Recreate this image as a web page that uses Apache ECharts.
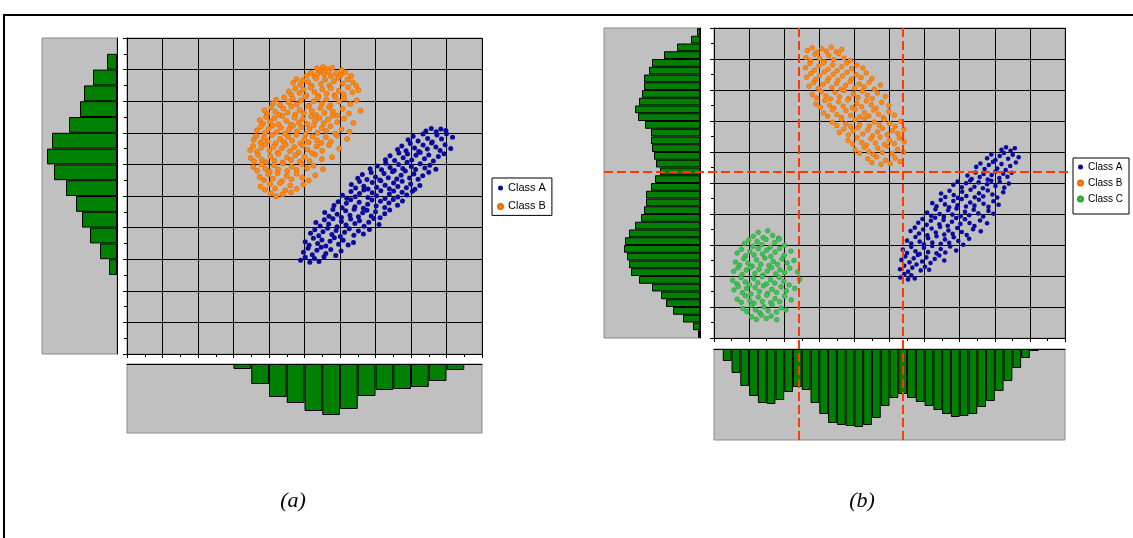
<!DOCTYPE html>
<html><head><meta charset="utf-8">
<script src="https://cdn.jsdelivr.net/npm/echarts@6/dist/echarts.min.js"></script>
<style>html,body{margin:0;padding:0;background:#fff}#c{width:1133px;height:538px}</style>
</head><body><div id="c"></div>
<script>
// ---------- data ----------
const classA_a = [[4.89,2.97],[5.02,3.06],[5.15,2.9],[5.28,3.02],[5.41,2.93],[5.55,3.08],
[4.97,3.22],[5.1,3.35],[5.22,3.14],[5.35,3.28],[5.47,3.38],[5.6,3.18],[5.74,3.31],[5.88,3.12],[6.03,3.26],
[5.02,3.55],[5.13,3.44],[5.25,3.66],[5.37,3.5],[5.49,3.61],[5.6,3.42],[5.72,3.57],[5.84,3.68],[5.96,3.47],[6.09,3.6],[6.23,3.45],[6.38,3.53],
[5.17,3.82],[5.29,3.93],[5.4,3.74],[5.52,3.87],[5.65,3.98],[5.77,3.78],[5.89,3.91],[6.01,3.72],[6.13,3.85],[6.26,3.96],[6.39,3.76],[6.52,3.89],[6.66,3.8],[6.83,3.94],
[5.32,4.16],[5.44,4.05],[5.56,4.25],[5.68,4.11],[5.8,4.28],[5.92,4.03],[6.04,4.19],[6.17,4.08],[6.3,4.27],[6.42,4.13],[6.55,4.22],[6.68,4.04],[6.81,4.17],[6.95,4.29],[7.1,4.1],
[5.57,4.48],[5.69,4.36],[5.8,4.57],[5.92,4.42],[6.04,4.32],[6.16,4.53],[6.28,4.39],[6.4,4.58],[6.52,4.34],[6.64,4.47],[6.76,4.55],[6.88,4.37],[7.0,4.5],[7.13,4.31],[7.26,4.44],[7.4,4.56],
[5.83,4.7],[5.95,4.82],[6.06,4.63],[6.18,4.77],[6.3,4.88],[6.42,4.66],[6.54,4.8],[6.66,4.61],[6.78,4.74],[6.9,4.87],[7.02,4.68],[7.14,4.83],[7.26,4.64],[7.38,4.78],[7.5,4.89],[7.62,4.71],[7.76,4.84],
[6.07,5.02],[6.19,4.93],[6.31,5.14],[6.43,4.98],[6.55,5.08],[6.67,5.19],[6.79,4.95],[6.91,5.1],[7.03,5.01],[7.15,5.17],[7.27,4.92],[7.39,5.06],[7.51,5.16],[7.63,4.97],[7.75,5.12],[7.88,5.03],[8.04,5.15],
[6.32,5.36],[6.44,5.25],[6.55,5.46],[6.67,5.31],[6.79,5.22],[6.91,5.43],[7.03,5.28],[7.15,5.48],[7.27,5.34],[7.39,5.23],[7.51,5.41],[7.63,5.3],[7.75,5.47],[7.87,5.26],[7.99,5.38],[8.11,5.21],[8.25,5.33],
[6.5,5.56],[6.63,5.68],[6.76,5.52],[6.88,5.74],[7.0,5.6],[7.12,5.51],[7.24,5.71],[7.36,5.58],[7.48,5.77],[7.6,5.54],[7.72,5.66],[7.84,5.79],[7.96,5.57],[8.08,5.7],[8.2,5.53],[8.33,5.64],[8.5,5.75],
[6.85,5.86],[7.05,5.95],[7.17,5.83],[7.29,6.04],[7.41,5.9],[7.53,5.81],[7.65,6.0],[7.77,5.87],[7.89,6.07],[8.01,5.93],[8.13,5.84],[8.26,6.02],[8.39,5.89],[8.53,5.97],[8.7,5.85],
[7.28,6.15],[7.41,6.27],[7.54,6.12],[7.66,6.36],[7.78,6.21],[7.9,6.33],[8.02,6.14],[8.14,6.29],[8.26,6.38],[8.38,6.18],[8.5,6.3],[8.63,6.11],[8.77,6.25],[8.93,6.34],
[7.62,6.47],[7.74,6.58],[7.86,6.43],[7.98,6.66],[8.1,6.52],[8.22,6.41],[8.34,6.61],[8.46,6.49],[8.58,6.68],[8.7,6.55],[8.82,6.44],[8.96,6.62],[9.12,6.5],
[7.92,6.78],[8.06,6.89],[8.2,6.74],[8.34,6.96],[8.47,6.82],[8.6,6.71],[8.73,6.93],[8.86,6.8],[9.0,6.97],[9.17,6.86],
[8.42,7.06],[8.57,7.14],[8.71,7.03],[8.84,7.12],[8.98,7.07]];

const classB_a = [[5.35,9.04],[5.52,9.08],[5.63,9.02],[5.78,9.06],[5.47,8.97],[6.05,8.98],
[5.06,8.81],[5.18,8.9],[5.29,8.78],[5.41,8.92],[5.55,8.85],[5.68,8.93],[5.74,8.79],[5.89,8.88],[6.02,8.83],[6.15,8.91],[6.31,8.8],[5.36,8.86],
[4.68,8.58],[4.77,8.7],[4.88,8.52],[4.95,8.66],[5.1,8.61],[5.21,8.49],[5.33,8.72],[5.46,8.55],[5.58,8.68],[5.7,8.5],[5.83,8.63],[5.95,8.74],[6.08,8.56],[6.21,8.69],[6.36,8.6],[6.46,8.48],
[4.56,8.31],[4.63,8.2],[4.74,8.4],[4.86,8.26],[4.97,8.37],[5.05,8.18],[5.17,8.43],[5.28,8.29],[5.39,8.17],[5.5,8.38],[5.62,8.24],[5.74,8.41],[5.85,8.19],[5.97,8.33],[6.1,8.22],[6.23,8.44],[6.35,8.28],[6.52,8.35],
[4.12,7.93],[4.2,8.05],[4.31,7.88],[4.43,8.12],[4.55,7.97],[4.67,8.08],[4.78,7.9],[4.9,8.02],[5.02,8.14],[5.13,7.86],[5.26,8.0],[5.38,8.11],[5.49,7.92],[5.61,8.06],[5.73,7.87],[5.86,8.13],[5.98,7.99],[6.12,8.09],[6.29,7.91],[6.47,8.03],
[3.87,7.71],[3.95,7.6],[4.06,7.8],[4.18,7.66],[4.29,7.57],[4.4,7.77],[4.52,7.64],[4.63,7.83],[4.74,7.58],[4.86,7.72],[4.98,7.62],[5.1,7.84],[5.21,7.69],[5.33,7.56],[5.45,7.78],[5.56,7.63],[5.69,7.81],[5.8,7.67],[5.93,7.55],[6.07,7.76],[6.25,7.61],[6.58,7.7],
[3.74,7.4],[3.83,7.29],[3.92,7.5],[4.03,7.35],[4.15,7.46],[4.26,7.27],[4.38,7.53],[4.49,7.38],[4.61,7.26],[4.72,7.48],[4.84,7.33],[4.95,7.44],[5.07,7.28],[5.19,7.52],[5.3,7.37],[5.42,7.47],[5.54,7.3],[5.66,7.42],[5.79,7.54],[5.92,7.34],[6.11,7.45],[6.38,7.31],
[3.66,7.08],[3.77,7.2],[3.88,6.99],[3.99,7.13],[4.1,7.23],[4.22,7.02],[4.33,7.16],[4.45,6.97],[4.56,7.1],[4.68,7.22],[4.79,7.04],[4.91,7.18],[5.03,6.96],[5.14,7.12],[5.26,7.24],[5.37,7.0],[5.49,7.15],[5.61,7.06],[5.73,7.21],[5.87,6.98],[6.04,7.11],[6.27,7.03],
[3.57,6.78],[3.64,6.9],[3.76,6.69],[3.86,6.84],[3.97,6.73],[4.08,6.93],[4.19,6.67],[4.31,6.81],[4.42,6.71],[4.54,6.88],[4.65,6.75],[4.77,6.94],[4.88,6.66],[5.0,6.8],[5.12,6.7],[5.23,6.89],[5.35,6.76],[5.47,6.68],[5.6,6.86],[5.74,6.72],[5.92,6.91],[6.2,6.8],
[3.47,6.45],[3.55,6.58],[3.66,6.4],[3.78,6.53],[3.9,6.63],[4.01,6.44],[4.13,6.56],[4.24,6.37],[4.36,6.51],[4.47,6.62],[4.59,6.42],[4.71,6.55],[4.83,6.38],[4.95,6.6],[5.08,6.47],[5.21,6.36],[5.34,6.57],[5.5,6.43],[5.69,6.61],[5.98,6.5],
[3.48,6.2],[3.58,6.1],[3.69,6.3],[3.8,6.15],[3.92,6.07],[4.04,6.26],[4.15,6.12],[4.27,6.33],[4.38,6.06],[4.5,6.22],[4.62,6.14],[4.74,6.29],[4.87,6.09],[5.0,6.24],[5.14,6.11],[5.3,6.31],[5.49,6.17],[5.78,6.23],
[3.56,5.92],[3.67,5.8],[3.79,6.0],[3.9,5.86],[4.02,5.77],[4.14,5.97],[4.26,5.84],[4.39,6.03],[4.51,5.79],[4.64,5.93],[4.78,5.83],[4.92,6.01],[5.07,5.88],[5.25,5.96],[5.52,5.85],
[3.74,5.6],[3.86,5.5],[3.98,5.69],[4.11,5.55],[4.24,5.72],[4.37,5.47],[4.5,5.63],[4.63,5.53],[4.78,5.7],[4.94,5.58],[5.12,5.49],[5.3,5.66],
[3.76,5.3],[3.89,5.2],[4.03,5.38],[4.17,5.24],[4.31,5.41],[4.46,5.18],[4.6,5.33],[4.78,5.22],[4.97,5.36],
[4.05,5.08],[4.2,4.99],[4.38,5.05],[4.62,5.11]];

const classA_b = [[5.31,1.95],[5.42,2.06],[5.53,1.89],[5.62,2.02],[5.72,1.92],
[5.3,2.22],[5.42,2.33],[5.53,2.14],[5.65,2.27],[5.77,2.37],[5.89,2.18],[6.01,2.3],[6.13,2.2],
[5.34,2.52],[5.45,2.63],[5.57,2.44],[5.69,2.57],[5.81,2.68],[5.93,2.47],[6.05,2.6],[6.17,2.42],[6.29,2.55],[6.42,2.66],[6.56,2.5],
[5.38,2.85],[5.5,2.74],[5.62,2.94],[5.74,2.8],[5.86,2.71],[5.98,2.91],[6.1,2.77],[6.22,2.97],[6.34,2.73],[6.46,2.87],[6.59,2.76],[6.73,2.95],[6.9,2.82],
[5.5,3.14],[5.62,3.05],[5.74,3.26],[5.86,3.11],[5.98,3.02],[6.1,3.22],[6.22,3.08],[6.34,3.28],[6.46,3.04],[6.58,3.18],[6.7,3.07],[6.83,3.25],[6.96,3.13],[7.1,3.01],[7.27,3.2],
[5.6,3.45],[5.72,3.56],[5.84,3.37],[5.96,3.5],[6.08,3.31],[6.2,3.53],[6.32,3.4],[6.44,3.58],[6.56,3.34],[6.68,3.47],[6.8,3.36],[6.93,3.55],[7.06,3.42],[7.2,3.32],[7.38,3.51],[7.6,3.44],
[5.82,3.72],[5.94,3.84],[6.06,3.65],[6.18,3.78],[6.3,3.88],[6.42,3.67],[6.54,3.81],[6.66,3.62],[6.78,3.75],[6.9,3.87],[7.02,3.68],[7.15,3.83],[7.28,3.71],[7.42,3.61],[7.58,3.79],[7.78,3.7],
[6.07,4.05],[6.19,3.94],[6.31,4.15],[6.43,4.0],[6.55,3.91],[6.67,4.12],[6.79,3.98],[6.91,4.18],[7.03,3.93],[7.15,4.07],[7.27,3.96],[7.4,4.14],[7.53,4.02],[7.67,3.92],[7.82,4.1],[7.96,4.01],
[6.22,4.35],[6.34,4.25],[6.46,4.45],[6.58,4.31],[6.7,4.22],[6.82,4.42],[6.94,4.28],[7.06,4.48],[7.18,4.24],[7.3,4.37],[7.42,4.27],[7.55,4.46],[7.68,4.33],[7.82,4.23],[7.96,4.41],[8.11,4.3],
[6.47,4.66],[6.59,4.55],[6.71,4.75],[6.83,4.61],[6.95,4.52],[7.07,4.72],[7.19,4.58],[7.31,4.78],[7.43,4.54],[7.55,4.67],[7.67,4.57],[7.8,4.76],[7.93,4.63],[8.07,4.53],[8.24,4.7],
[6.82,4.94],[6.94,5.05],[7.06,4.86],[7.18,4.99],[7.3,5.08],[7.42,4.88],[7.54,5.02],[7.66,4.83],[7.78,4.96],[7.9,5.07],[8.02,4.9],[8.14,5.03],[8.27,4.85],[8.4,4.98],
[7.22,5.24],[7.34,5.13],[7.45,5.34],[7.57,5.19],[7.68,5.29],[7.8,5.11],[7.91,5.26],[8.02,5.37],[8.13,5.16],[8.24,5.3],[8.36,5.2],[8.48,5.33],
[7.47,5.52],[7.59,5.63],[7.71,5.45],[7.83,5.58],[7.95,5.68],[8.07,5.47],[8.19,5.61],[8.31,5.42],[8.44,5.55],[8.6,5.66],
[7.78,5.8],[7.9,5.92],[8.02,5.74],[8.14,5.87],[8.26,5.97],[8.38,5.78],[8.51,5.91],[8.68,5.83],
[8.19,6.07],[8.32,6.15],[8.45,6.04],[8.57,6.12]];

const classB_b = [[2.66,9.27],[2.8,9.36],[2.94,9.22],[3.07,9.33],[3.2,9.25],[3.34,9.38],[3.48,9.24],[3.64,9.31],
[2.62,9.05],[2.75,8.94],[2.88,9.15],[3.01,9.02],[3.14,8.92],[3.27,9.12],[3.41,8.98],[3.55,9.17],[3.7,9.03],[3.88,8.95],
[2.61,8.72],[2.73,8.85],[2.86,8.64],[2.99,8.78],[3.12,8.88],[3.25,8.67],[3.38,8.81],[3.51,8.62],[3.64,8.75],[3.78,8.87],[3.92,8.69],[4.07,8.8],[4.24,8.71],
[2.64,8.41],[2.76,8.53],[2.89,8.34],[3.01,8.47],[3.14,8.58],[3.27,8.38],[3.4,8.51],[3.53,8.32],[3.66,8.45],[3.79,8.57],[3.92,8.36],[4.05,8.49],[4.19,8.4],[4.34,8.55],[4.5,8.37],
[2.71,8.12],[2.84,8.24],[2.97,8.05],[3.1,8.18],[3.23,8.29],[3.36,8.08],[3.49,8.21],[3.62,8.02],[3.75,8.15],[3.88,8.27],[4.01,8.06],[4.14,8.19],[4.28,8.1],[4.42,8.25],[4.57,8.03],[4.74,8.16],
[2.8,7.85],[2.93,7.74],[3.06,7.95],[3.19,7.81],[3.32,7.71],[3.45,7.92],[3.58,7.78],[3.71,7.98],[3.84,7.73],[3.97,7.87],[4.1,7.76],[4.23,7.96],[4.37,7.83],[4.51,7.72],[4.66,7.9],[4.88,7.79],
[2.9,7.55],[3.03,7.45],[3.16,7.66],[3.29,7.51],[3.42,7.42],[3.55,7.62],[3.68,7.48],[3.81,7.68],[3.94,7.43],[4.07,7.57],[4.2,7.46],[4.34,7.65],[4.48,7.52],[4.62,7.41],[4.78,7.6],[4.98,7.5],
[3.12,7.26],[3.24,7.15],[3.37,7.36],[3.5,7.21],[3.63,7.12],[3.76,7.33],[3.89,7.18],[4.02,7.38],[4.15,7.13],[4.28,7.27],[4.41,7.16],[4.55,7.35],[4.69,7.22],[4.83,7.11],[4.98,7.3],[5.14,7.19],
[3.37,6.96],[3.5,6.85],[3.63,7.06],[3.76,6.91],[3.89,6.82],[4.02,7.03],[4.15,6.88],[4.29,7.08],[4.43,6.84],[4.57,6.97],[4.71,6.86],[4.85,7.05],[5.0,6.92],[5.16,6.83],[5.32,6.99],
[3.57,6.63],[3.7,6.74],[3.83,6.55],[3.96,6.68],[4.1,6.78],[4.24,6.58],[4.38,6.71],[4.52,6.52],[4.66,6.65],[4.8,6.76],[4.94,6.56],[5.09,6.69],[5.24,6.6],[5.41,6.73],
[3.82,6.37],[3.95,6.26],[4.08,6.46],[4.21,6.31],[4.34,6.22],[4.47,6.43],[4.6,6.29],[4.73,6.48],[4.86,6.24],[5.0,6.38],[5.14,6.27],[5.28,6.45],[5.42,6.33],
[4.02,6.06],[4.15,5.96],[4.28,6.15],[4.41,6.01],[4.54,5.92],[4.67,6.12],[4.8,5.98],[4.94,6.18],[5.08,5.94],[5.23,6.08],[5.4,5.99],
[4.38,5.78],[4.5,5.66],[4.63,5.84],[4.76,5.6],[4.89,5.73],[5.02,5.63],[5.16,5.8],[5.3,5.69]];

const classC_b = [[1.12,3.28],[1.26,3.41],[1.4,3.24],[1.53,3.46],[1.67,3.31],[1.84,3.22],
[0.87,3.05],[0.99,3.16],[1.11,2.96],[1.23,3.11],[1.36,3.01],[1.48,3.18],[1.6,2.93],[1.73,3.08],[1.86,3.19],[2.01,2.99],
[0.66,2.74],[0.78,2.86],[0.9,2.65],[1.02,2.79],[1.14,2.68],[1.26,2.88],[1.38,2.71],[1.5,2.83],[1.62,2.63],[1.74,2.77],[1.87,2.89],[2.0,2.67],[2.19,2.8],
[0.61,2.45],[0.73,2.35],[0.85,2.56],[0.97,2.41],[1.09,2.32],[1.21,2.52],[1.33,2.38],[1.45,2.58],[1.57,2.34],[1.69,2.47],[1.81,2.37],[1.94,2.55],[2.08,2.42],[2.28,2.5],
[0.56,2.15],[0.68,2.26],[0.8,2.05],[0.92,2.19],[1.04,2.28],[1.16,2.08],[1.28,2.22],[1.4,2.03],[1.52,2.16],[1.64,2.27],[1.76,2.07],[1.88,2.2],[2.01,2.11],[2.16,2.25],[2.38,2.13],
[0.53,1.86],[0.65,1.75],[0.77,1.95],[0.89,1.81],[1.01,1.72],[1.13,1.92],[1.25,1.78],[1.37,1.98],[1.49,1.74],[1.61,1.88],[1.73,1.77],[1.86,1.96],[1.99,1.83],[2.14,1.71],[2.44,1.89],
[0.57,1.55],[0.69,1.66],[0.81,1.46],[0.93,1.6],[1.05,1.42],[1.17,1.63],[1.29,1.5],[1.41,1.68],[1.53,1.44],[1.65,1.57],[1.78,1.47],[1.91,1.65],[2.06,1.52],[2.3,1.6],
[0.66,1.25],[0.78,1.15],[0.9,1.36],[1.02,1.21],[1.14,1.12],[1.26,1.32],[1.38,1.18],[1.5,1.38],[1.62,1.14],[1.74,1.27],[1.87,1.17],[2.01,1.35],[2.2,1.23],
[0.82,0.95],[0.94,0.85],[1.06,1.05],[1.18,0.91],[1.3,0.82],[1.42,1.01],[1.54,0.88],[1.66,1.07],[1.78,0.84],[1.91,0.97],[2.05,0.9],
[1.07,0.68],[1.21,0.6],[1.35,0.74],[1.49,0.63],[1.63,0.71],[1.79,0.59]];

// histogram counts (a): 20 bins of 0.5 over 0..10 ; (b): 40 bins of 0.25 over 0..10
const histA_y = [0,0,0,0,0,8,17,27,35,41,51,63,70,65,48,37,33,24,10,0];   // bottom -> top
const histA_x = [0,0,0,0,0,0,5,20,33,39,47,51,45,32,26,25,23,17,6,0];     // left -> right
const histB_y = [2,7,17,27,34,39,48,61,69,71,73,76,75,71,65,59,56,54,54,49,45,40,44,46,48,49,49,55,62,65,61,58,56,56,51,48,36,23,9,3];
const histB_x = [0,12,24,37,47,54,55,51,43,38,41,54,65,74,76,77,78,76,69,57,49,45,49,53,57,61,65,68,67,65,58,52,42,32,19,9,2,0,0,0];
const histMax = {ay: 75, ax: 69, by: 96, bx: 91};
const thresholdsX_b = [2.41, 5.38];
const thresholdsY_b = [5.35];
const legendA = ['Class A', 'Class B'];
const legendB = ['Class A', 'Class B', 'Class C'];
const captions = ['(a)', '(b)'];

// ---------- chart ----------
const COLORS = {A: '#0A0A9E', B: '#FF8A14', C: '#3FC552', bar: '#008000', grey: '#C0C0C0', red: '#FF3A00'};
const binLabels = (n, w) => Array.from({length: n}, (_, i) => (i * w + w / 2).toFixed(3));
const binsA = binLabels(20, 0.5), binsB = binLabels(40, 0.25);
const chart = echarts.init(document.getElementById('c'), null, {renderer: 'canvas'});

const gridBase = {show: true, backgroundColor: COLORS.grey, borderColor: '#8a8a8a', borderWidth: 1, containLabel: false, outerBoundsMode: 'none'};
const grids = [
  {left: 127, top: 38, width: 355, height: 316},   // a scatter
  {left: 42, top: 38, width: 75, height: 316},     // a y-hist
  {left: 127, top: 364, width: 355, height: 69},   // a x-hist
  {left: 714, top: 28, width: 351, height: 310},   // b scatter
  {left: 604, top: 28, width: 96, height: 310},    // b y-hist
  {left: 714, top: 349, width: 351, height: 91}    // b x-hist
].map(g => Object.assign({}, gridBase, g));

const blk = {color: '#000', width: 1};
function scatterAxis(gi, pos) {
  return {type: 'value', gridIndex: gi, position: pos, min: 0, max: 10, interval: 1,
    axisLabel: {show: false},
    axisLine: {show: true, onZero: false, lineStyle: blk},
    axisTick: {show: true, inside: false, length: 4, lineStyle: blk},
    minorTick: {show: true, splitNumber: 2, length: 3, lineStyle: blk},
    splitLine: {show: true, lineStyle: blk}, minorSplitLine: {show: false}};
}
const hidden = (gi, max, inv) => ({type: 'value', gridIndex: gi, min: 0, max: max, inverse: inv, show: false, splitLine: {show: false}});
const catAxis = (gi, data, pos) => ({type: 'category', gridIndex: gi, data: data, position: pos,
  axisLine: {show: true, onZero: false, lineStyle: blk}, axisTick: {show: false}, axisLabel: {show: false}, splitLine: {show: false}});

const xAxis = [scatterAxis(0, 'bottom'), hidden(1, histMax.ay, true), catAxis(2, binsA, 'top'),
               scatterAxis(3, 'bottom'), hidden(4, histMax.by, true), catAxis(5, binsB, 'top')];
const yAxis = [scatterAxis(0, 'left'), catAxis(1, binsA, 'right'), hidden(2, histMax.ax, true),
               scatterAxis(3, 'left'), catAxis(4, binsB, 'right'), hidden(5, histMax.bx, true)];

const dot = (name, data, ai, color, size, border) => ({type: 'scatter', name: name, data: data, xAxisIndex: ai, yAxisIndex: ai,
  symbol: 'circle', symbolSize: size, silent: true, z: 3,
  itemStyle: {color: color, borderColor: border || color, borderWidth: border ? 0.7 : 0, opacity: 1}});
const bars = (name, data, ai) => ({type: 'bar', name: name, data: data.map(v => v > 0 ? v : '-'), xAxisIndex: ai, yAxisIndex: ai,
  barCategoryGap: '0%', barGap: '0%', silent: true,
  itemStyle: {color: COLORS.bar, borderColor: '#000', borderWidth: 1}});

const legendBase = {orient: 'vertical', icon: 'circle', itemWidth: 5, itemHeight: 5, selectedMode: false,
  borderColor: '#000', borderWidth: 1, backgroundColor: '#fff'};

const option = {
  animation: false,
  backgroundColor: '#fff',
  grid: grids, xAxis: xAxis, yAxis: yAxis,
  legend: [
    Object.assign({}, legendBase, {data: legendA, left: 492, top: 178, padding: [3, 6, 2, 5], itemGap: 4.4,
      textStyle: {fontFamily: '"Liberation Sans", Arial, sans-serif', fontSize: 11, lineHeight: 14, color: '#000'}}),
    Object.assign({}, legendBase, {data: legendB, left: 1073, top: 158, padding: [3, 6, 9, 4], itemGap: 4,
      textStyle: {fontFamily: '"Liberation Sans", Arial, sans-serif', fontSize: 10, lineHeight: 12, color: '#000'}})
  ],
  series: [
    dot('Class A', classA_a, 0, COLORS.A, 5),
    dot('Class B', classB_a, 0, COLORS.B, 5, '#E86A00'),
    bars('hist a y', histA_y, 1),
    bars('hist a x', histA_x, 2),
    dot('Class A', classA_b, 3, COLORS.A, 4.6),
    dot('Class B', classB_b, 3, COLORS.B, 4.6, '#E86A00'),
    dot('Class C', classC_b, 3, COLORS.C, 4.6, '#27A03A'),
    bars('hist b y', histB_y, 4),
    bars('hist b x', histB_x, 5)
  ]
};
chart.setOption(option);

// dashed threshold lines placed through the axes of panel (b)
const topY = chart.convertToPixel({yAxisIndex: 3}, 10);
const botY = chart.convertToPixel({yAxisIndex: 5}, histMax.bx);
const leftX = chart.convertToPixel({xAxisIndex: 4}, histMax.by);
const rightX = chart.convertToPixel({xAxisIndex: 3}, 10);
const dash = {stroke: COLORS.red, lineWidth: 2, lineDash: [9, 4]};
const elements = [];
thresholdsX_b.forEach(v => {
  const x = Math.round(chart.convertToPixel({xAxisIndex: 3}, v));
  elements.push({type: 'line', z: 100, silent: true, shape: {x1: x, y1: topY, x2: x, y2: botY + 1}, style: dash});
});
thresholdsY_b.forEach(v => {
  const y = Math.round(chart.convertToPixel({yAxisIndex: 3}, v));
  elements.push({type: 'line', z: 100, silent: true, shape: {x1: leftX, y1: y, x2: rightX + 3, y2: y}, style: dash});
});
[[captions[0], 293], [captions[1], 862]].forEach(([t, x]) => {
  elements.push({type: 'text', z: 100, silent: true, x: x, y: 501,
    style: {text: t, font: 'italic 22px "Liberation Serif", "Times New Roman", serif', fill: '#000',
      textAlign: 'center', textVerticalAlign: 'middle', align: 'center', verticalAlign: 'middle'}});
});
elements.push({type: 'rect', z: 100, silent: true, shape: {x: 4, y: 15, width: 1200, height: 600},
  style: {fill: 'none', stroke: '#000', lineWidth: 2}});
chart.setOption({graphic: {elements: elements}});
</script>
</body></html>
